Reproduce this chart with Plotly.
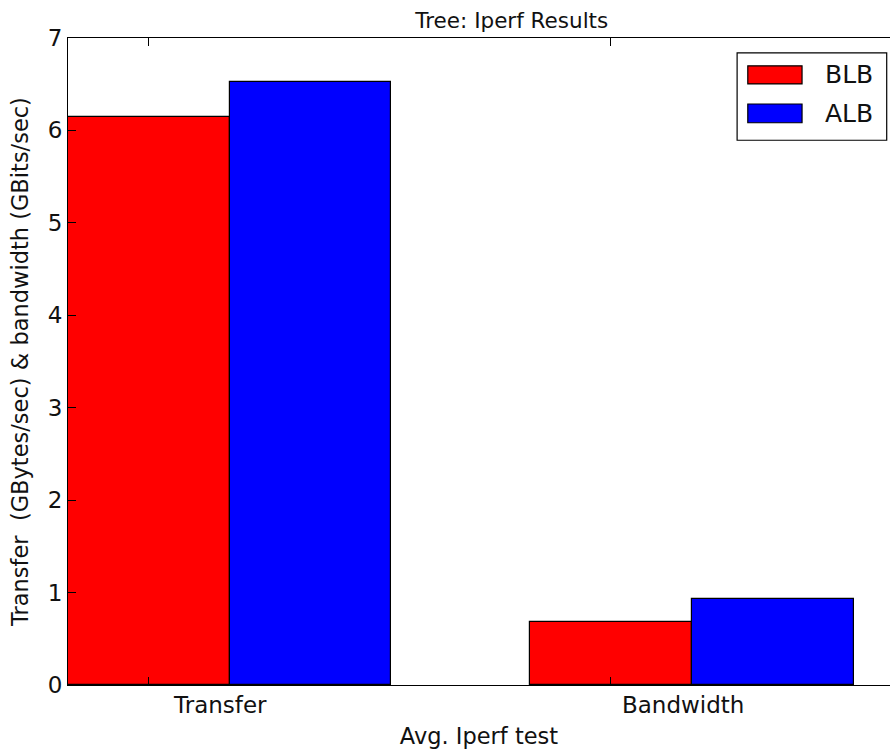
import plotly.graph_objects as go

categories = ["Transfer", "Bandwidth"]
series_names = ["BLB", "ALB"]
blb_values = [6.15, 0.685]
alb_values = [6.52, 0.93]
series_colors = ["#ff0000", "#0000ff"]
y_ticks = [0, 1, 2, 3, 4, 5, 6, 7]

bar_w = 0.35
idx = list(range(len(categories)))
FONT = "DejaVu Sans"

fig = go.Figure()
for k, (name, vals, col) in enumerate(zip(series_names, [blb_values, alb_values], series_colors)):
    fig.add_trace(go.Bar(
        x=[i + bar_w / 2 + k * bar_w for i in idx],
        y=vals,
        width=[bar_w] * len(idx),
        name=name,
        marker=dict(color=col, line=dict(color="black", width=1.2)),
        showlegend=False,
    ))

# category labels (offset from tick marks as in original)
annotations = []
for i, c in zip(idx, categories):
    annotations.append(dict(x=i + 0.33, xref="x", y=0, yref="paper", yanchor="top",
                            yshift=-5, text=c, showarrow=False,
                            font=dict(family=FONT, size=23, color="#111111")))

# manual legend
shapes = [dict(type="rect", xref="paper", yref="paper", x0=0.814, x1=0.996, y0=0.842, y1=0.977,
               line=dict(color="black", width=1.2), fillcolor="white", layer="above")]
patch_y = [(0.929, 0.957), (0.869, 0.898)]
for (y0, y1), col, name in zip(patch_y, series_colors, series_names):
    shapes.append(dict(type="rect", xref="paper", yref="paper", x0=0.827, x1=0.893, y0=y0, y1=y1,
                       line=dict(color="black", width=1.2), fillcolor=col, layer="above"))
    annotations.append(dict(x=0.918, xref="paper", y=(y0 + y1) / 2, yref="paper",
                            xanchor="left", yanchor="middle", text=name, showarrow=False,
                            font=dict(family=FONT, size=25, color="#111111")))

fig.update_layout(
    width=890, height=751,
    margin=dict(l=68, r=0, t=38, b=66),
    plot_bgcolor="white", paper_bgcolor="white",
    barmode="overlay", bargap=0,
    font=dict(family=FONT, size=22, color="#111111"),
    title=dict(text="Tree: Iperf Results", x=0.575, xanchor="center", y=0.973, yanchor="middle",
               font=dict(family=FONT, size=21.5, color="#111111")),
    xaxis=dict(range=[0, 1.779], tickvals=[i + bar_w / 2 for i in idx], ticktext=["", ""],
               ticks="inside", ticklen=8, tickcolor="black", showline=True, linecolor="black",
               linewidth=1.2, mirror="ticks", showgrid=False, zeroline=False,
               title=dict(text="Avg. Iperf test", standoff=38, font=dict(family=FONT, size=22.5))),
    yaxis=dict(range=[0, 7], tickvals=y_ticks, ticks="inside", ticklen=8, tickcolor="black",
               showline=True, linecolor="black", linewidth=1.2, showgrid=False, zeroline=False,
               tickfont=dict(family=FONT, size=23),
               title=dict(text="Transfer \u00a0(GBytes/sec) & bandwidth (GBits/sec)", standoff=12,
                          font=dict(family=FONT, size=22.5))),
    shapes=shapes,
    annotations=annotations,
)

fig.write_html("out.html", config={"displayModeBar": False},
               post_script="document.body.style.margin='0';document.body.style.overflow='hidden';")
